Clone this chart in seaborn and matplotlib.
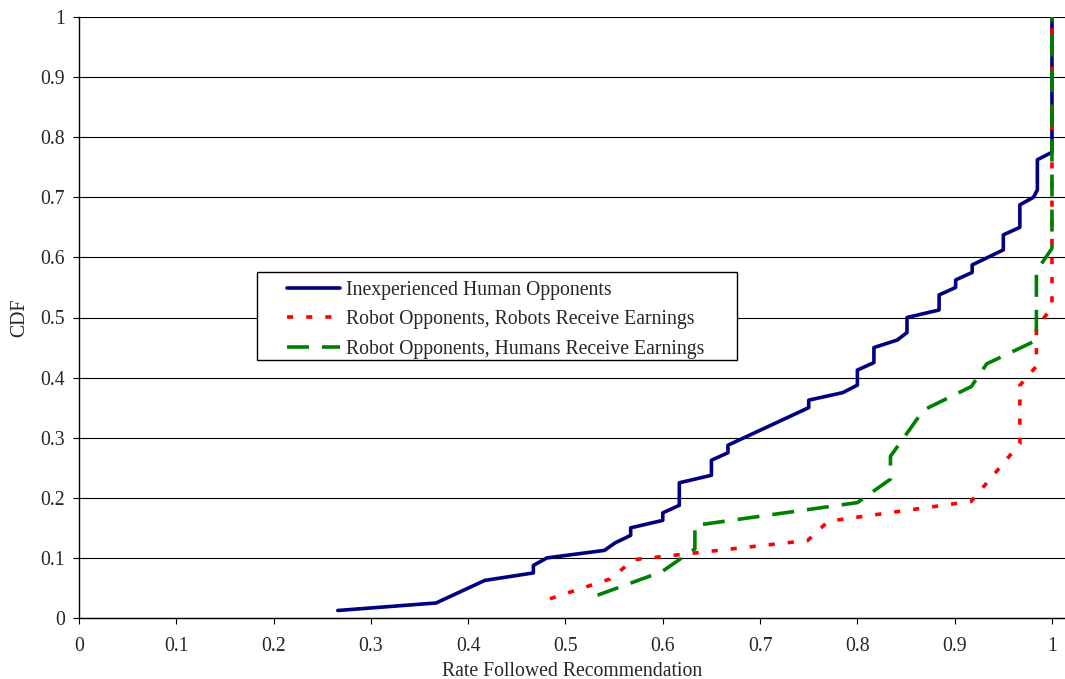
import matplotlib
matplotlib.use("Agg")
import matplotlib.pyplot as plt
from matplotlib.patches import Rectangle
import seaborn as sns

# ---- data ----
human_x = [0.266, 0.367, 0.417, 0.467, 0.467, 0.481, 0.540, 0.551, 0.567, 0.567,
           0.600, 0.600, 0.617, 0.617, 0.650, 0.650, 0.667, 0.667, 0.750, 0.750,
           0.785, 0.800, 0.800, 0.817, 0.817, 0.841, 0.851, 0.851, 0.884, 0.884,
           0.901, 0.901, 0.918, 0.918, 0.950, 0.950, 0.967, 0.967, 0.981, 0.985,
           0.985, 1.0, 1.0]
human_y = [0.0125, 0.025, 0.0625, 0.075, 0.0875, 0.1, 0.1125, 0.125, 0.1375, 0.15,
           0.1625, 0.175, 0.1875, 0.225, 0.2375, 0.2625, 0.275, 0.2875, 0.35, 0.3625,
           0.375, 0.3875, 0.4125, 0.425, 0.45, 0.4625, 0.475, 0.5, 0.5125, 0.5375,
           0.55, 0.5625, 0.575, 0.5875, 0.6125, 0.6375, 0.65, 0.6875, 0.7, 0.7125,
           0.7625, 0.775, 1.0]

robot_x = [0.484, 0.546, 0.570, 0.749, 0.770, 0.917, 0.967, 0.967, 0.984, 0.984, 1.0, 1.0]
robot_y = [0.032, 0.065, 0.097, 0.129, 0.161, 0.194, 0.290, 0.387, 0.419, 0.484, 0.516, 1.0]

humrec_x = [0.533, 0.599, 0.633, 0.633, 0.800, 0.834, 0.834, 0.868, 0.917, 0.933,
            0.984, 0.984, 1.0, 1.0]
humrec_y = [0.038, 0.077, 0.115, 0.154, 0.192, 0.231, 0.269, 0.346, 0.385, 0.423,
            0.462, 0.577, 0.615, 1.0]

labels = ["Inexperienced Human Opponents",
          "Robot Opponents, Robots Receive Earnings",
          "Robot Opponents, Humans Receive Earnings"]
x_ticks = [0, 0.1, 0.2, 0.3, 0.4, 0.5, 0.6, 0.7, 0.8, 0.9, 1]
y_ticks = [0, 0.1, 0.2, 0.3, 0.4, 0.5, 0.6, 0.7, 0.8, 0.9, 1]
x_label = "Rate Followed Recommendation"
y_label = "CDF"

# ---- style ----
sns.set_style("white")
plt.rcParams["font.family"] = ["Liberation Serif", "DejaVu Serif"]
FS = 14.2

fig = plt.figure(figsize=(10.65, 6.79), dpi=100)
ax = fig.add_axes([79 / 1065, 61 / 679, 986 / 1065, 601 / 679])

lw = 2.6
sns.lineplot(x=human_x, y=human_y, sort=False, estimator=None, ax=ax,
             color="#000080", lw=lw, label=labels[0], zorder=3)
sns.lineplot(x=robot_x, y=robot_y, sort=False, estimator=None, ax=ax,
             color="#FF0000", lw=lw, linestyle=(0, (1.7, 3.6)), label=labels[1], zorder=3)
sns.lineplot(x=humrec_x, y=humrec_y, sort=False, estimator=None, ax=ax,
             color="#008000", lw=lw, linestyle=(0, (6.1, 3.6)), label=labels[2], zorder=3)

ax.set_xlim(0, 1.0134)
ax.set_ylim(0, 1)
ax.set_xticks(x_ticks)
ax.set_yticks(y_ticks)
ax.set_xticklabels([f"{t:g}" for t in x_ticks], fontsize=FS)
ax.set_yticklabels([f"{t:g}" for t in y_ticks], fontsize=FS)
ax.yaxis.grid(True, color="#000000", lw=0.8)
ax.xaxis.grid(False)
ax.set_axisbelow(True)
for s in ["top", "right"]:
    ax.spines[s].set_visible(False)
for s in ["left", "bottom"]:
    ax.spines[s].set_color("black")
    ax.spines[s].set_linewidth(1.0)
ax.tick_params(axis="both", direction="out", length=4, width=0.8, color="black",
               bottom=True, left=True)
ax.tick_params(axis="x", pad=10)
ax.tick_params(axis="y", pad=6)

ax.set_xlabel(x_label, fontsize=FS, labelpad=4)
ax.set_ylabel(y_label, fontsize=FS, labelpad=8)

# legend box (Excel-like wide padding)
box = Rectangle((0.1805, 0.4293), 0.4868, 0.1464, transform=ax.transAxes,
                facecolor="white", edgecolor="black", lw=1.0, zorder=4.5)
ax.add_patch(box)
handles, labs = ax.get_legend_handles_labels()
ax.legend(handles, labs, loc="upper left", bbox_to_anchor=(0.207, 0.5674),
          frameon=False, fontsize=FS, borderpad=0.2, handlelength=2.7,
          handletextpad=0.3, labelspacing=0.53, borderaxespad=0)

fig.savefig("out.png", dpi=100)
